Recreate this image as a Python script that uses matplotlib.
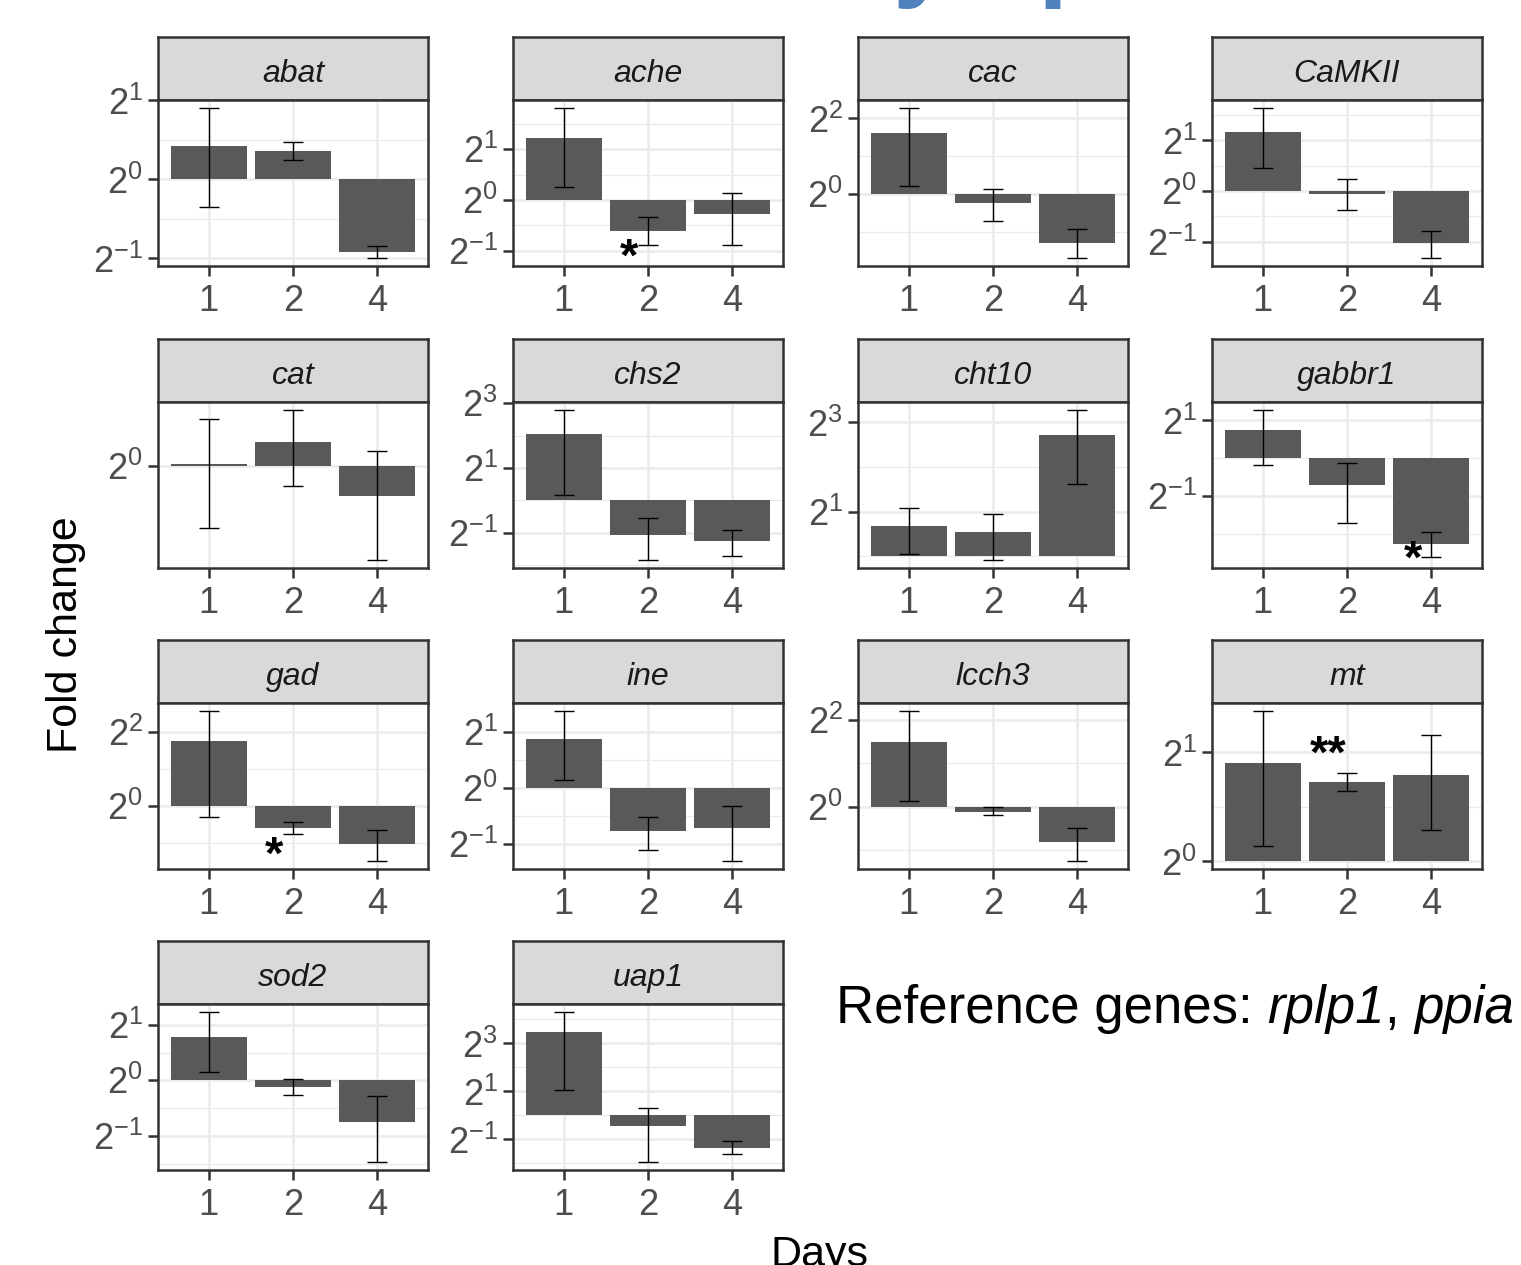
import matplotlib
matplotlib.use("Agg")
import matplotlib.pyplot as plt
import numpy as np

plt.rcParams['font.family'] = ['Liberation Sans', 'DejaVu Sans']
plt.rcParams['mathtext.fontset'] = 'custom'
plt.rcParams['mathtext.rm'] = 'Liberation Sans'
plt.rcParams['mathtext.it'] = 'Liberation Sans:italic'

# datos (log2 del fold change, dias 1, 2, 4)
genes = ["abat", "ache", "cac", "CaMKII", "cat", "chs2", "cht10", "gabbr1",
         "gad", "ine", "lcch3", "mt", "sod2", "uap1"]
dias = ["1", "2", "4"]

log2_media = [[0.425, 0.36, -0.92], [1.23, -0.60, -0.28], [1.61, -0.25, -1.29],
              [1.17, -0.06, -1.03], [0.01, 0.16, -0.20], [2.04, -1.06, -1.25],
              [0.68, 0.55, 2.71], [0.74, -0.71, -2.28], [1.75, -0.61, -1.04],
              [0.875, -0.77, -0.72], [1.49, -0.12, -0.81], [0.90, 0.73, 0.795],
              [0.78, -0.115, -0.745], [3.46, -0.43, -1.35]]
log2_bajo = [[-0.35, 0.24, -1.0], [0.26, -0.88, -0.88], [0.21, -0.73, -1.71],
             [0.45, -0.375, -1.33], [-0.41, -0.13, -0.62], [0.155, -1.85, -1.70],
             [0.06, -0.09, 1.62], [-0.19, -1.71, -2.63], [-0.31, -0.78, -1.51],
             [0.14, -1.11, -1.32], [0.14, -0.20, -1.26], [0.144, 0.645, 0.29],
             [0.144, -0.26, -1.48], [1.04, -1.96, -1.625]]
log2_alto = [[0.91, 0.47, -0.84], [1.82, -0.34, 0.13], [2.29, 0.12, -0.94],
             [1.65, 0.23, -0.78], [0.31, 0.37, 0.10], [2.80, -0.55, -0.90],
             [1.08, 0.96, 3.29], [1.29, -0.14, -1.96], [2.57, -0.44, -0.66],
             [1.38, -0.52, -0.32], [2.21, -0.01, -0.49], [1.385, 0.81, 1.16],
             [1.24, 0.024, -0.29], [4.33, 0.32, -1.08]]

# potencias de 2 marcadas en cada panel
cortes_y = [[-1, 0, 1], [-1, 0, 1], [0, 2], [-1, 0, 1], [0], [-1, 1, 3], [1, 3],
            [-1, 1], [0, 2], [-1, 0, 1], [0, 2], [0, 1], [-1, 0, 1], [-1, 1, 3]]

# asteriscos de significancia
estrella_gen = ["ache", "gabbr1", "gad", "mt"]
estrella_dia = [1, 2, 1, 1]
estrella_y = [-1.15, -2.71, -1.37, 0.97]
estrella_txt = ["*", "*", "*", "**"]

W, H = 1521, 1265
fig = plt.figure(figsize=(W / 100, H / 100), dpi=100)

col_izq = [158, 513, 858, 1212]
ancho = 270
fila_strip = [37, 339, 640, 941]
alto_strip = 63
alto_panel = 166

gris_borde = "#333333"

for i, gen in enumerate(genes):
    fila = i // 4
    col = i % 4
    x0 = col_izq[col]
    ys = fila_strip[fila]
    # franja del titulo
    sax = fig.add_axes([x0 / W, 1 - (ys + alto_strip) / H, ancho / W, alto_strip / H])
    sax.set_facecolor("#D9D9D9")
    sax.set_xticks([])
    sax.set_yticks([])
    for s in sax.spines.values():
        s.set_color(gris_borde)
        s.set_linewidth(1.8)
    sax.text(0.5, 0.42, gen, ha="center", va="center", fontsize=23,
             style="italic", color="#1A1A1A", transform=sax.transAxes)

    yp = ys + alto_strip
    ax = fig.add_axes([x0 / W, 1 - (yp + alto_panel) / H, ancho / W, alto_panel / H])
    x = np.arange(1, 4)
    m = np.array(log2_media[i])
    lo = np.array(log2_bajo[i])
    hi = np.array(log2_alto[i])

    valores = list(lo) + list(hi) + [0]
    for g, d, yv in zip(estrella_gen, estrella_dia, estrella_y):
        if g == gen:
            valores.append(yv)
    vmin, vmax = min(valores), max(valores)
    r = vmax - vmin
    ax.set_ylim(vmin - 0.05 * r, vmax + 0.05 * r)
    ax.set_xlim(0.4, 3.6)

    cortes = cortes_y[i]
    if len(cortes) > 1:
        paso = cortes[1] - cortes[0]
        menores = np.arange(cortes[0] - paso / 2, cortes[-1] + paso, paso)
        for mn in menores:
            ax.axhline(mn, color="#EBEBEB", lw=0.9, zorder=0)
    for c in cortes:
        ax.axhline(c, color="#EBEBEB", lw=1.8, zorder=0)
    for xx in x:
        ax.axvline(xx, color="#EBEBEB", lw=1.8, zorder=0)

    ax.bar(x, m, width=0.9, color="#595959", zorder=2)
    ax.errorbar(x, m, yerr=[m - lo, hi - m], fmt="none", ecolor="black",
                elinewidth=1.0, capsize=7, capthick=1.0, zorder=3)

    for g, d, yv, t in zip(estrella_gen, estrella_dia, estrella_y, estrella_txt):
        if g == gen:
            ax.text(d + 1 - 0.22, yv, t, ha="center", va="center", fontsize=34,
                    fontweight="bold", color="black", zorder=4)

    ax.set_yticks(cortes)
    ax.set_yticklabels([r"$2^{%d}$" % c for c in cortes])
    ax.set_xticks(x)
    ax.set_xticklabels(dias)
    ax.tick_params(axis="both", length=7, width=1.8, color=gris_borde,
                   labelcolor="#4D4D4D", labelsize=26)
    ax.tick_params(axis="y", pad=4)
    ax.tick_params(axis="x", pad=6)
    for s in ax.spines.values():
        s.set_color(gris_borde)
        s.set_linewidth(1.8)

fig.text(66 / W, 1 - 635 / H, "Fold change", rotation=90, ha="center",
         va="center", fontsize=31, color="black")
fig.text(820 / W, -1 / H, "Days", ha="center", va="baseline", fontsize=31,
         color="black")

# texto de genes de referencia, con los nombres en cursiva
renderer = fig.canvas.get_renderer()
piezas = [("Reference genes: ", "normal"), ("rplp1", "italic"), (", ", "normal"),
          ("ppia", "italic")]
xpos = 836
for t, st in piezas:
    tx = fig.text(xpos / W, 1 - 1023 / H, t, ha="left", va="baseline",
                  fontsize=38, style=st, color="black")
    xpos += tx.get_window_extent(renderer).width

# restos del titulo azul recortado
fig.text(892 / W, 1 + 13 / H, "y", ha="left", va="baseline", fontsize=78,
         fontweight="bold", color="#4F81BD")
fig.text(1038 / W, 1 + 13 / H, "p", ha="left", va="baseline", fontsize=78,
         fontweight="bold", color="#4F81BD")

fig.savefig("out.png", dpi=100)
